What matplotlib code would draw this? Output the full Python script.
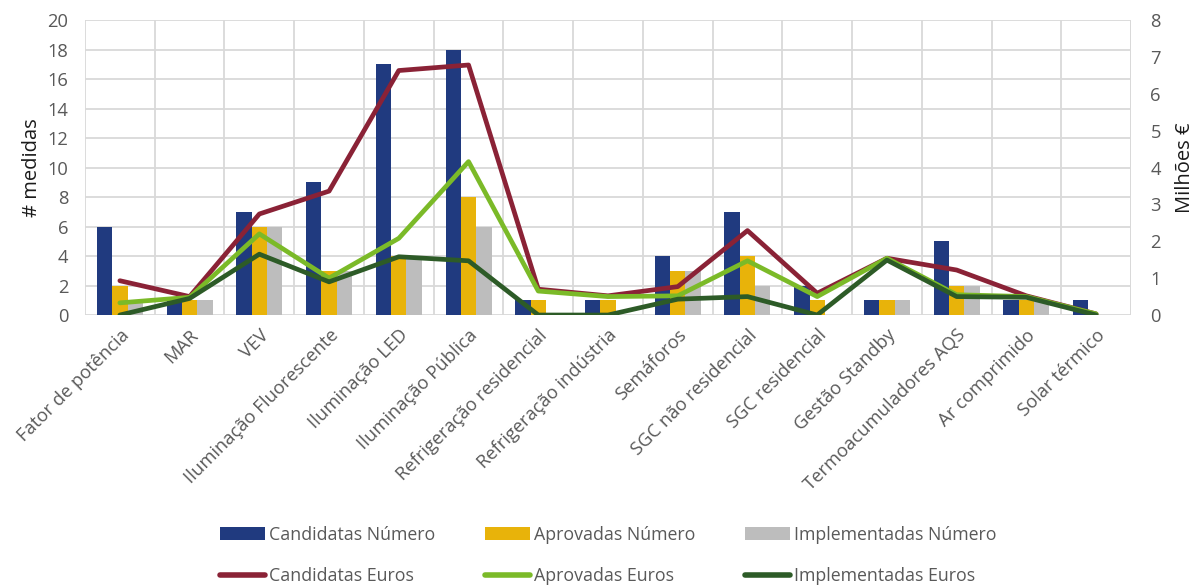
import matplotlib
matplotlib.use("Agg")
import matplotlib.pyplot as plt
import numpy as np
from matplotlib.patches import Patch
from matplotlib.lines import Line2D

plt.rcParams['font.family'] = ['Open Sans', 'DejaVu Sans']

categories = ["Fator de potência", "MAR", "VEV", "Iluminação Fluorescente", "Iluminação LED",
              "Iluminação Pública", "Refrigeração residencial", "Refrigeração indústria",
              "Semáforos", "SGC não residencial", "SGC residencial", "Gestão Standby",
              "Termoacumuladores AQS", "Ar comprimido", "Solar térmico"]

candidatas_num = [6, 1, 7, 9, 17, 18, 1, 1, 4, 7, 2, 1, 5, 1, 1]
aprovadas_num = [2, 1, 6, 3, 4, 8, 1, 1, 3, 4, 1, 1, 2, 1, 0]
implementadas_num = [1, 1, 6, 3, 4, 6, 0, 0, 3, 2, 0, 1, 2, 1, 0]

candidatas_eur = [0.93, 0.50, 2.74, 3.36, 6.63, 6.78, 0.70, 0.52, 0.77, 2.29, 0.59, 1.54, 1.22, 0.52, 0.03]
aprovadas_eur = [0.33, 0.48, 2.20, 1.00, 2.08, 4.16, 0.65, 0.50, 0.52, 1.47, 0.50, 1.54, 0.55, 0.50, 0.03]
implementadas_eur = [0.00, 0.45, 1.65, 0.90, 1.58, 1.47, 0.00, 0.00, 0.43, 0.50, 0.00, 1.49, 0.50, 0.48, 0.00]

c_blue = "#203A7F"
c_yellow = "#E8B30A"
c_grey = "#BDBDBD"
c_red = "#8A2236"
c_lgreen = "#7BBA28"
c_dgreen = "#2D5B27"
grid_c = "#D9D9D9"
text_c = "#595959"
fs_tick = 13.2
fs_leg = 12.8

fig = plt.figure(figsize=(11.99, 5.85), dpi=100)
ax = fig.add_axes([0.0709, 0.4615, 0.8724, 0.5043])
ax2 = ax.twinx()

x = np.arange(len(categories))
w = 0.22
ax.bar(x - w, candidatas_num, w, color=c_blue, zorder=2)
ax.bar(x, aprovadas_num, w, color=c_yellow, zorder=2)
ax.bar(x + w, implementadas_num, w, color=c_grey, zorder=2)

ax.set_xlim(-0.5, len(categories) - 0.5)
ax.set_ylim(0, 20)
ax.set_yticks(range(0, 21, 2))
ax.set_xticks(x)
ax.set_xticklabels(categories, rotation=45, ha="right", rotation_mode="anchor")
ax.set_xticks(np.arange(-0.5, len(categories), 1), minor=True)
ax.grid(True, axis="y", color=grid_c, lw=1.3, zorder=0)
ax.grid(True, axis="x", which="minor", color=grid_c, lw=1.3, zorder=0)
ax.grid(False, axis="x", which="major")
ax.tick_params(axis="both", which="both", length=0, labelsize=fs_tick, colors=text_c)
ax.tick_params(axis="x", pad=8)
ax.tick_params(axis="y", pad=12)
for s in ax.spines.values():
    s.set_visible(False)
ax.set_ylabel("# medidas", fontsize=14.5, color="#1a1a1a", labelpad=4)

lw = 3.4
ax2.plot(x, candidatas_eur, color=c_red, lw=lw, zorder=3, solid_capstyle="round")
ax2.plot(x, aprovadas_eur, color=c_lgreen, lw=lw, zorder=3, solid_capstyle="round")
ax2.plot(x, implementadas_eur, color=c_dgreen, lw=lw, zorder=4, solid_capstyle="round")
ax2.set_ylim(0, 8)
ax2.set_yticks(range(0, 9))
ax2.tick_params(axis="y", length=0, labelsize=fs_tick, colors=text_c, pad=14)
for s in ax2.spines.values():
    s.set_visible(False)
ax2.set_ylabel("Milhões €", fontsize=14.5, color="#1a1a1a", labelpad=10)
ax2.axvline(len(categories) - 0.5, color=grid_c, lw=1.3, zorder=0)

handles = [
    Patch(facecolor=c_blue, label="Candidatas Número"),
    Line2D([], [], color=c_red, lw=4, solid_capstyle="round", label="Candidatas Euros"),
    Patch(facecolor=c_yellow, label="Aprovadas Número"),
    Line2D([], [], color=c_lgreen, lw=4, solid_capstyle="round", label="Aprovadas Euros"),
    Patch(facecolor=c_grey, label="Implementadas Número"),
    Line2D([], [], color=c_dgreen, lw=4, solid_capstyle="round", label="Implementadas Euros"),
]
leg = fig.legend(handles=handles, ncol=3, loc="center", bbox_to_anchor=(0.5075, 0.0505),
                 frameon=False, fontsize=fs_leg, handlelength=2.5, handleheight=0.72,
                 handletextpad=0.25, columnspacing=2.8, labelspacing=1.33)
for t in leg.get_texts():
    t.set_color(text_c)

fig.savefig("out.png", dpi=100)
